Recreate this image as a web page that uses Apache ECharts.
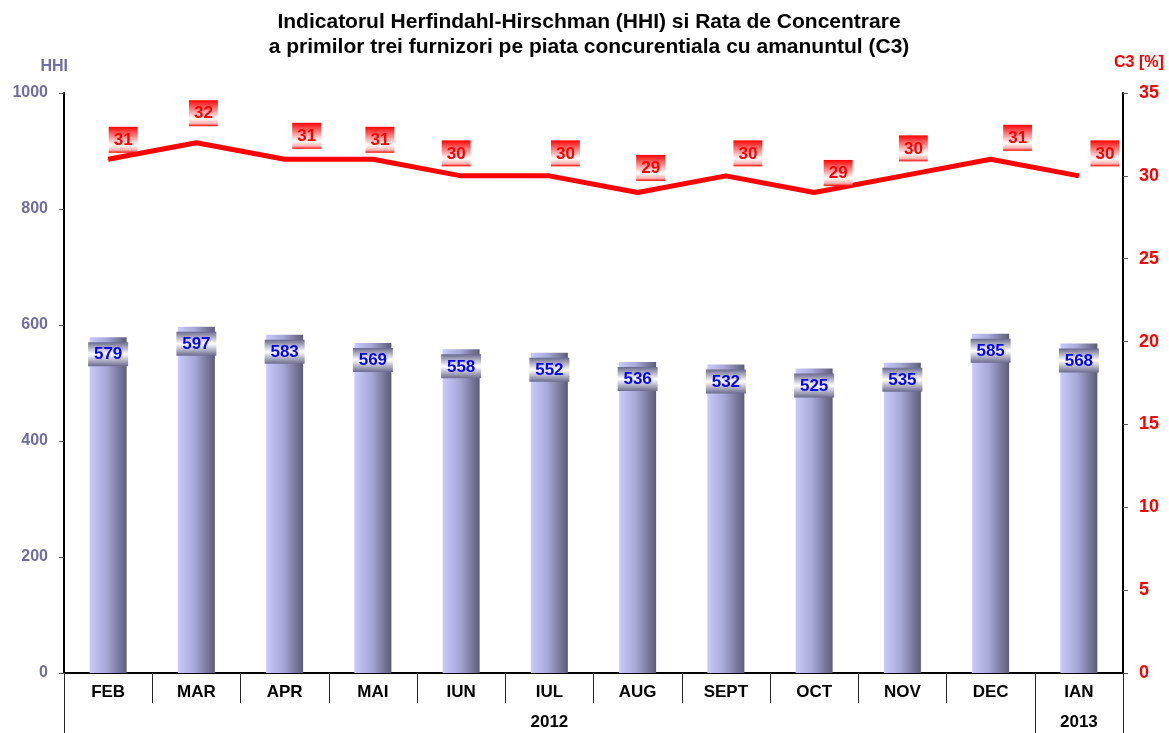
<!DOCTYPE html>
<html>
<head>
<meta charset="utf-8">
<script src="https://cdn.jsdelivr.net/npm/echarts@6/dist/echarts.min.js"></script>
<style>
  html, body { margin: 0; padding: 0; background: #fff; }
  #chart { width: 1169px; height: 733px; }
</style>
</head>
<body>
<div id="chart"></div>
<script>
// data
var months = ["FEB", "MAR", "APR", "MAI", "IUN", "IUL", "AUG", "SEPT", "OCT", "NOV", "DEC", "IAN"];
var years = ["", "", "", "", "", "2012", "", "", "", "", "", "2013"];
var hhi = [579, 597, 583, 569, 558, 552, 536, 532, 525, 535, 585, 568];
var c3 = [31, 32, 31, 31, 30, 30, 29, 30, 29, 30, 31, 30];

// label nudges (x, y) for the C3 boxes, as placed by hand in the original
var c3LabelNudge = [
  [15, 0], [7, -10], [22, -4], [7, 0], [-5, -3], [16, -3],
  [13, -5], [22, -3], [24, 0], [11, -8], [27, -2], [26, -3]
];

var chart = echarts.init(document.getElementById("chart"), null, { renderer: "canvas" });

var font = "Liberation Sans, Arial, sans-serif";
var slate = "#6e6ea0";

var barFill = new echarts.graphic.LinearGradient(0, 0, 1, 0, [
  { offset: 0, color: "#cacafa" },
  { offset: 0.45, color: "#a8a8d8" },
  { offset: 1, color: "#5c5c78" }
]);
var barLabelBg = new echarts.graphic.LinearGradient(0, 0, 0, 1, [
  { offset: 0, color: "#6a6a8e" },
  { offset: 0.5, color: "#ffffff" },
  { offset: 1, color: "#6a6a8e" }
]);
var lineLabelBg = new echarts.graphic.LinearGradient(0, 0, 0, 1, [
  { offset: 0, color: "#ff0000" },
  { offset: 0.7, color: "#ffffff" },
  { offset: 0.9, color: "#ffb0b0" },
  { offset: 1, color: "#ff0000" }
]);

var option = {
  animation: false,
  title: {
    text: "Indicatorul Herfindahl-Hirschman (HHI) si Rata de Concentrare\na primilor trei furnizori pe piata concurentiala cu amanuntul (C3)",
    left: 584,
    top: 5,
    textAlign: "center",
    textStyle: { fontFamily: font, fontSize: 21, fontWeight: "bold", color: "#000", lineHeight: 25 }
  },
  grid: { left: 64, right: 46, top: 93, bottom: 60, containLabel: false },
  xAxis: [
    {
      type: "category",
      data: months,
      position: "bottom",
      axisLine: { show: true, lineStyle: { color: "#000", width: 2 } },
      axisTick: { show: true, interval: 0, length: 30, lineStyle: { color: "#222", width: 1 } },
      axisLabel: { interval: 0, margin: 11, fontFamily: font, fontSize: 17, fontWeight: "bold", color: "#000" }
    },
    {
      type: "category",
      data: years,
      position: "bottom",
      offset: 30,
      axisLine: { show: true, lineStyle: { color: "rgba(0,0,0,0)", width: 1 } },
      axisTick: {
        show: true,
        length: 60,
        interval: 10,
        lineStyle: { color: "#222", width: 1 }
      },
      axisLabel: { interval: 0, margin: 11, fontFamily: font, fontSize: 17, fontWeight: "bold", color: "#000" }
    }
  ],
  yAxis: [
    {
      type: "value",
      min: 0,
      max: 1000,
      interval: 200,
      name: "HHI",
      nameGap: 18,
      nameTextStyle: { fontFamily: font, fontSize: 16, fontWeight: "bold", color: slate, align: "right", padding: [0, -4, 0, 0] },
      splitLine: { show: false },
      axisLine: { show: true, lineStyle: { color: "#000", width: 2 } },
      axisTick: { show: true, length: 5, lineStyle: { color: "#555", width: 1 } },
      axisLabel: {
        margin: 16, fontFamily: font, fontSize: 16, fontWeight: "bold", color: slate,
        formatter: function (v) { return String(v); }
      }
    },
    {
      type: "value",
      min: 0,
      max: 35,
      interval: 5,
      position: "right",
      name: "C3 [%]",
      nameGap: 22,
      nameTextStyle: { fontFamily: font, fontSize: 16, fontWeight: "bold", color: "#ff0000", align: "left", padding: [0, 0, 0, -9] },
      splitLine: { show: false },
      axisLine: { show: true, lineStyle: { color: "#000", width: 2 } },
      axisTick: { show: true, length: 5, lineStyle: { color: "#555", width: 1 } },
      axisLabel: { margin: 16, fontFamily: font, fontSize: 18, fontWeight: "bold", color: "#ff0000" }
    }
  ],
  series: [
    {
      name: "HHI",
      type: "bar",
      xAxisIndex: 0,
      yAxisIndex: 0,
      data: hhi,
      barWidth: 37,
      itemStyle: { color: barFill },
      label: {
        show: true,
        position: "insideTop",
        distance: 5,
        fontFamily: font,
        fontSize: 17,
        fontWeight: "bold",
        color: "#0000ff",
        backgroundColor: barLabelBg,
        padding: [4, 5, 3, 5],
        width: 30,
        align: "center"
      },
      z: 2
    },
    {
      name: "C3",
      type: "line",
      xAxisIndex: 0,
      yAxisIndex: 1,
      data: c3,
      symbol: "circle",
      symbolSize: 1,
      showSymbol: true,
      itemStyle: { color: "#ff0000" },
      lineStyle: { color: "#ff0000", width: 5 },
      label: {
        show: true,
        position: "top",
        distance: 6,
        fontFamily: font,
        fontSize: 17,
        fontWeight: "bold",
        color: "#ff0000",
        backgroundColor: lineLabelBg,
        padding: [5, 5, 4, 5]
      },
      labelLayout: function (params) {
        var n = c3LabelNudge[params.dataIndex] || [0, 0];
        return { dx: n[0], dy: n[1], hideOverlap: false };
      },
      z: 3
    }
  ]
};

option && chart.setOption(option);
</script>
</body>
</html>
